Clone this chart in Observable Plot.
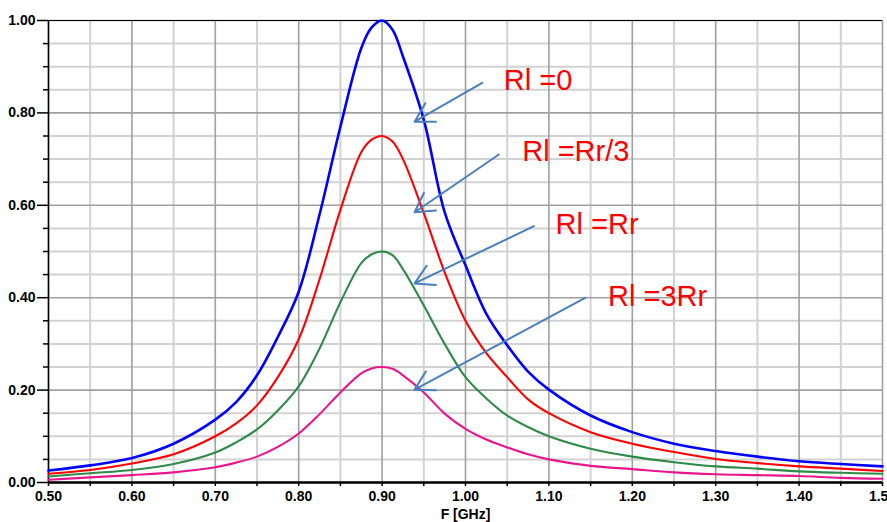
<!DOCTYPE html>
<html>
<head>
<meta charset="utf-8">
<script src="https://cdn.jsdelivr.net/npm/d3@7"></script>
<script src="https://cdn.jsdelivr.net/npm/@observablehq/plot@0.6"></script>
<style>
  html, body { margin: 0; padding: 0; background: white; }
</style>
</head>
<body>
<div id="chart"></div>
<script>
// Frequency samples (GHz)
const freq = [0.50,0.55,0.60,0.65,0.70,0.725,0.75,0.775,0.80,0.825,0.85,0.875,0.8875,0.90,0.9125,0.925,0.95,0.975,1.00,1.025,1.05,1.075,1.10,1.15,1.20,1.25,1.30,1.35,1.40,1.45,1.50];
// Series values
const rl0   = [0.026,0.037,0.053,0.084,0.136,0.174,0.232,0.315,0.413,0.580,0.770,0.940,0.985,1.000,0.980,0.922,0.785,0.585,0.470,0.365,0.297,0.240,0.201,0.145,0.109,0.084,0.068,0.056,0.046,0.040,0.035];
const rlRr3 = [0.019,0.027,0.041,0.061,0.100,0.128,0.167,0.228,0.310,0.440,0.590,0.715,0.742,0.750,0.738,0.700,0.583,0.455,0.350,0.280,0.228,0.180,0.150,0.109,0.084,0.066,0.051,0.042,0.035,0.030,0.025];
const rlRr  = [0.013,0.020,0.027,0.040,0.065,0.087,0.115,0.156,0.208,0.290,0.390,0.475,0.494,0.500,0.492,0.462,0.383,0.300,0.228,0.182,0.145,0.120,0.100,0.073,0.056,0.044,0.035,0.030,0.024,0.021,0.019];
const rl3Rr = [0.006,0.011,0.016,0.022,0.033,0.043,0.056,0.077,0.106,0.148,0.195,0.236,0.247,0.250,0.246,0.232,0.195,0.149,0.116,0.093,0.076,0.061,0.050,0.036,0.029,0.022,0.018,0.016,0.014,0.010,0.008];

const seriesNames  = ["Rl =0", "Rl =Rr/3", "Rl =Rr", "Rl =3Rr"];
const seriesColors = ["#0000ff", "#ff0000", "#2e8b4a", "#e8168c"];
const seriesValues = [rl0, rlRr3, rlRr, rl3Rr];

// Tick values
const xMajor = [0.5,0.6,0.7,0.8,0.9,1.0,1.1,1.2,1.3,1.4,1.5];
const xMinor = [0.55,0.65,0.75,0.85,0.95,1.05,1.15,1.25,1.35,1.45];
const yMajor = [0,0.2,0.4,0.6,0.8,1.0];
const yMinor = [0.05,0.1,0.15,0.25,0.3,0.35,0.45,0.5,0.55,0.65,0.7,0.75,0.85,0.9,0.95];

// Annotation label anchors (data coords) and arrows (tail -> head)
const labelX = [1.046, 1.068, 1.108, 1.171];
const labelY = [0.869, 0.716, 0.559, 0.403];
const arrowTailX = [1.020, 1.040, 1.082, 1.144];
const arrowTailY = [0.865, 0.710, 0.555, 0.400];
const arrowHeadX = [0.939, 0.939, 0.939, 0.939];
const arrowHeadY = [0.781, 0.585, 0.431, 0.201];

const rows = [];
seriesNames.forEach((s, i) => freq.forEach((f, j) => rows.push({series: s, f, v: seriesValues[i][j]})));
const labels = seriesNames.map((s, i) => ({text: s, x: labelX[i], y: labelY[i]}));
const arrows = seriesNames.map((s, i) => ({x1: arrowTailX[i], y1: arrowTailY[i], x2: arrowHeadX[i], y2: arrowHeadY[i]}));

const fmt = d3.format(".2f");
const tickFont = {fontSize: 14, fontWeight: "bold"};

const chart = Plot.plot({
  width: 887,
  height: 522,
  marginLeft: 48,
  marginRight: 5,
  marginTop: 20,
  marginBottom: 40,
  style: {fontFamily: "'Liberation Sans', Arial, sans-serif", fontSize: "14px", fontWeight: "bold", background: "white", color: "black"},
  x: {domain: [0.5, 1.5]},
  y: {domain: [0, 1]},
  color: {domain: seriesNames, range: seriesColors},
  marks: [
    Plot.gridX(xMinor, {stroke: "#d2d2d2", strokeOpacity: 1, strokeWidth: 2}),
    Plot.gridY(yMinor, {stroke: "#d2d2d2", strokeOpacity: 1, strokeWidth: 2}),
    Plot.gridX(xMajor, {stroke: "#a0a0a0", strokeOpacity: 1, strokeWidth: 1.6}),
    Plot.gridY(yMajor, {stroke: "#a0a0a0", strokeOpacity: 1, strokeWidth: 1.6}),
    Plot.ruleX([0.5], {stroke: "black", strokeWidth: 1.5}),
    Plot.ruleY([1], {stroke: "black", strokeWidth: 1.2}),
    Plot.axisY(yMajor, {...tickFont, tickSize: 11, tickPadding: 2, tickFormat: fmt, label: null, strokeWidth: 1.5}),
    Plot.axisY(yMinor, {tickSize: 5, tickFormat: () => "", label: null, strokeWidth: 1.5}),
    Plot.axisX(xMajor, {...tickFont, tickSize: 4, tickPadding: 5, tickFormat: fmt, label: "F [GHz]", labelAnchor: "center", labelArrow: "none", labelOffset: 36, strokeWidth: 1.5}),
    Plot.axisX(xMinor, {tickSize: 4, tickFormat: () => "", label: null, strokeWidth: 1.5}),
    Plot.line(rows, {x: "f", y: "v", z: "series", stroke: "series", strokeWidth: d => d.series === "Rl =0" ? 2.6 : 2.1, curve: "catmull-rom"}),
    Plot.ruleY([0], {stroke: "black", strokeWidth: 2.5}),
    Plot.arrow(arrows, {x1: "x1", y1: "y1", x2: "x2", y2: "y2", stroke: "#4a7fbf", strokeWidth: 2, headLength: 16, headAngle: 60, bend: 0}),
    Plot.text(labels, {x: "x", y: "y", text: "text", fill: "#ff0000", fontSize: 29, fontWeight: "normal", textAnchor: "start", lineAnchor: "middle"})
  ]
});
document.getElementById("chart").appendChild(chart);
</script>
</body>
</html>
